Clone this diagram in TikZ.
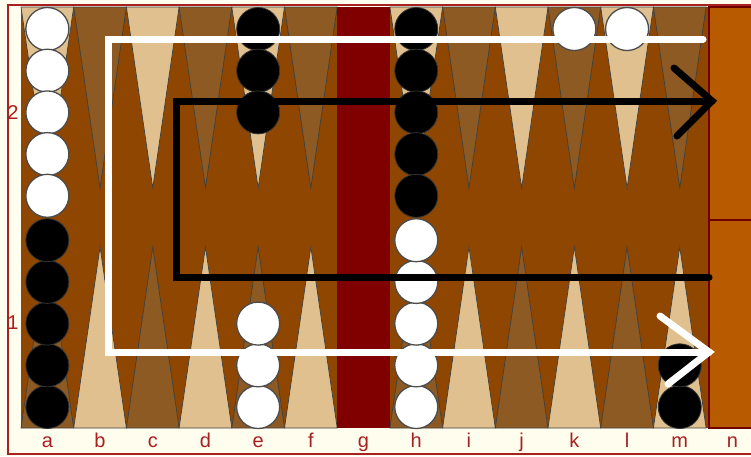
\documentclass[tikz,border=0pt]{standalone}
\usepackage{fontspec}
\setsansfont{Liberation Sans}
\usepackage{xcolor}
\usetikzlibrary{math}

\definecolor{boardbg}{RGB}{142,70,0}
\definecolor{tanpt}{RGB}{224,192,142}
\definecolor{midpt}{RGB}{140,90,34}
\definecolor{barred}{RGB}{128,0,0}
\definecolor{edgered}{RGB}{168,32,32}
\definecolor{creambg}{RGB}{255,253,238}
\definecolor{trayorange}{RGB}{184,90,0}
\definecolor{traydark}{RGB}{110,0,0}

\tikzset{
  point/.style={line width=0.7, draw=black!75},
  whitestone/.style={fill=white, draw=black!70, line width=1.3},
  blackstone/.style={fill=black, draw=black!80, line width=0.8},
  whiteroute/.style={draw=white, line width=7, line cap=round},
  blackroute/.style={draw=black, line width=7, line cap=round},
  boardlabel/.style={text=edgered, font=\sffamily\fontsize{20}{24}\selectfont, inner sep=0}
}

\begin{document}
\begin{tikzpicture}[x=1pt,y=-1pt]
\tikzmath{
\colw=52.7; \xa=21; \yt=7; \yb=428; \rr=21.5; \dy=41.7;
}
\useasboundingbox (0,0) rectangle (751,456);

% frame
\fill[creambg] (0,0) rectangle (751,456);
\draw[edgered, line width=2] (751,5) -- (8,5) -- (8,454) -- (751,454);

% board
\fill[boardbg] (\xa,\yt) rectangle (709,\yb);
\foreach \c/\col in {0/tanpt,1/midpt,2/tanpt,3/midpt,4/tanpt,5/midpt,7/tanpt,8/midpt,9/tanpt,10/midpt,11/tanpt,12/midpt}
  \filldraw[point, fill=\col] ({\xa+\c*\colw},\yt) -- ({\xa+(\c+1)*\colw},\yt) -- ({\xa+(\c+0.5)*\colw},188) -- cycle;
\foreach \c/\col in {0/midpt,1/tanpt,2/midpt,3/tanpt,4/midpt,5/tanpt,7/midpt,8/tanpt,9/midpt,10/tanpt,11/midpt,12/tanpt}
  \filldraw[point, fill=\col] ({\xa+\c*\colw},\yb) -- ({\xa+(\c+1)*\colw},\yb) -- ({\xa+(\c+0.5)*\colw},247) -- cycle;
\fill[barred] ({\xa+6*\colw},\yt) rectangle ({\xa+7*\colw},\yb);

% bearing off trays
\filldraw[fill=trayorange, draw=traydark, line width=2] (709,\yt) rectangle (753,220);
\filldraw[fill=trayorange, draw=traydark, line width=2] (709,220) rectangle (753,\yb);

% stones
\foreach \c/\n in {0/5,10/1,11/1}
  \foreach \k in {1,...,\n}
    \filldraw[whitestone] ({\xa+(\c+0.5)*\colw},{29+(\k-1)*\dy}) circle (\rr);
\foreach \c/\n in {4/3,7/5}
  \foreach \k in {1,...,\n}
    \filldraw[blackstone] ({\xa+(\c+0.5)*\colw},{29+(\k-1)*\dy}) circle (\rr);
\foreach \c/\n in {0/5,12/2}
  \foreach \k in {1,...,\n}
    \filldraw[blackstone] ({\xa+(\c+0.5)*\colw},{407-(\k-1)*\dy}) circle (\rr);
\foreach \c/\n in {4/3,7/5}
  \foreach \k in {1,...,\n}
    \filldraw[whitestone] ({\xa+(\c+0.5)*\colw},{407-(\k-1)*\dy}) circle (\rr);

% white route
\coordinate (w0) at (703,39);
\coordinate (w1) at (108,39);
\coordinate (w2) at (108,352);
\coordinate (w3) at (709,352);
\draw[whiteroute] (w0) -- (w1) -- (w2) -- (w3);
\draw[whiteroute] (660,316) -- (w3) -- (668,384);

% black route
\coordinate (b0) at (709,277);
\coordinate (b1) at (176,277);
\coordinate (b2) at (176,101);
\coordinate (b3) at (712,101);
\draw[blackroute] (b0) -- (b1) -- (b2) -- (b3);
\draw[blackroute] (674,68) -- (b3) -- (677,136);

% labels
\node[boardlabel] (row2) at (13,113) {2};
\node[boardlabel] (row1) at (13,323) {1};
\foreach \c/\t in {0/a,1/b,2/c,3/d,4/e,5/f,6/g,7/h,8/i,9/j,10/k,11/l,12/m,13/n}
  \node[boardlabel, anchor=base] (col\t) at ({\xa+(\c+0.5)*\colw},447) {\t};
\end{tikzpicture}
\end{document}
